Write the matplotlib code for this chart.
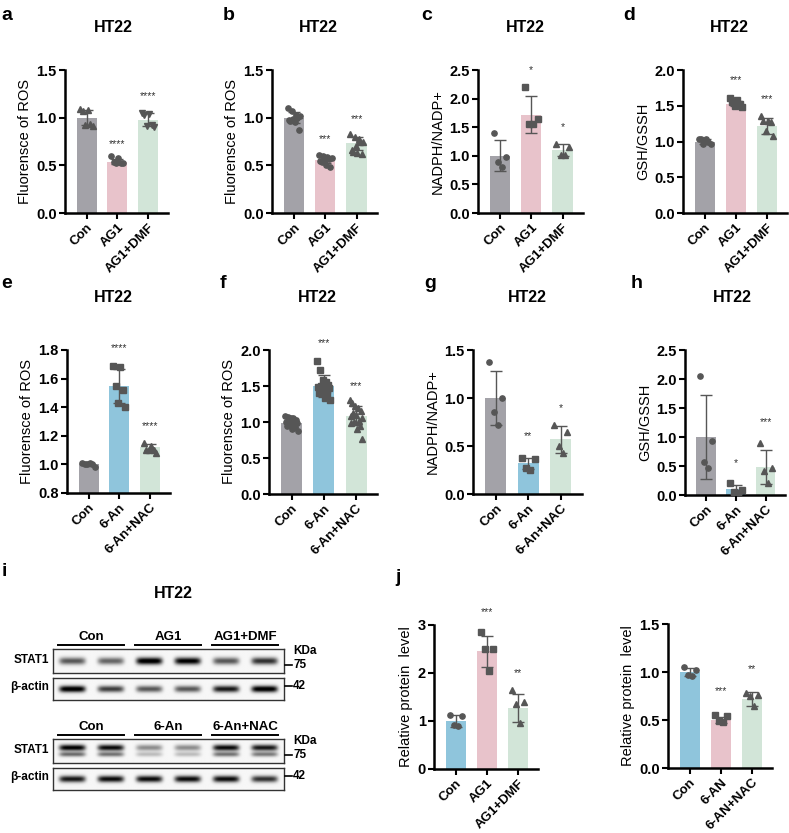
import numpy as np
import matplotlib
matplotlib.use('Agg')
from matplotlib import pyplot as plt
from matplotlib.lines import Line2D

plt.rcParams['font.family'] = ['Liberation Sans', 'DejaVu Sans']

W, H = 789, 833

# colours of the bars
GRAY = '#a3a2a8'
PINK = '#e8c3cb'
GREEN = '#d2e5d8'
BLUE = '#8fc5dc'
DOT = '#565656'

ag_groups = ['Con', 'AG1', 'AG1+DMF']
an_groups = ['Con', '6-An', '6-An+NAC']
an_groups_j = ['Con', '6-AN', '6-AN+NAC']

# ---- a : ROS, AG1
a_means = [1.0, 0.54, 0.98]
a_sd = [0.08, 0.03, 0.07]
a_pts = [[1.09, 1.08, 1.07, 0.93, 0.92, 0.91],
         [0.60, 0.58, 0.53, 0.52, 0.52, 0.52],
         [1.05, 1.04, 1.03, 0.92, 0.91, 0.90]]
a_stars = ['', '****', '****']
a_star_y = [0, 0.72, 1.23]

# ---- b : ROS, AG1
b_means = [1.0, 0.56, 0.73]
b_sd = [0.06, 0.04, 0.07]
b_pts = [[1.10, 1.07, 1.03, 1.02, 1.0, 0.99, 0.98, 0.97, 0.95, 0.87],
         [0.61, 0.60, 0.59, 0.58, 0.57, 0.56, 0.55, 0.53, 0.50, 0.48],
         [0.83, 0.80, 0.78, 0.75, 0.74, 0.70, 0.66, 0.64, 0.63, 0.62]]
b_stars = ['', '***', '***']
b_star_y = [0, 0.78, 0.98]

# ---- c : NADPH/NADP+, AG1
c_means = [1.0, 1.72, 1.1]
c_sd = [0.27, 0.32, 0.11]
c_pts = [[1.40, 0.98, 0.90, 0.80],
         [2.20, 1.65, 1.55, 1.55],
         [1.20, 1.15, 1.02, 1.02]]
c_stars = ['', '*', '*']
c_star_y = [0, 2.5, 1.5]

# ---- d : GSH/GSSH, AG1
d_means = [1.0, 1.53, 1.22]
d_sd = [0.04, 0.04, 0.11]
d_pts = [[1.04, 1.04, 1.03, 1.0, 0.97, 0.96],
         [1.61, 1.58, 1.55, 1.52, 1.50, 1.48],
         [1.36, 1.28, 1.28, 1.27, 1.15, 1.08]]
d_stars = ['', '***', '***']
d_star_y = [0, 1.86, 1.6]

# ---- e : ROS, 6-An
e_means = [1.0, 1.55, 1.12]
e_sd = [0.01, 0.12, 0.02]
e_pts = [[1.01, 1.01, 1.0, 1.0, 1.0, 0.98],
         [1.69, 1.68, 1.55, 1.52, 1.43, 1.40],
         [1.15, 1.13, 1.10, 1.10, 1.10, 1.08]]
e_stars = ['', '****', '****']
e_star_y = [0, 1.81, 1.27]

# ---- f : ROS, 6-An
f_means = [0.99, 1.50, 1.09]
f_sd = [0.06, 0.15, 0.13]
f_pts = [[1.08, 1.07, 1.06, 1.05, 1.03, 1.02, 1.0, 1.0, 0.99, 0.98, 0.97, 0.95, 0.93, 0.90, 0.87],
         [1.85, 1.72, 1.58, 1.55, 1.52, 1.50, 1.50, 1.48, 1.47, 1.45, 1.42, 1.40, 1.38, 1.33, 1.30],
         [1.30, 1.27, 1.22, 1.20, 1.15, 1.12, 1.10, 1.08, 1.05, 1.02, 1.0, 0.98, 0.95, 0.90, 0.77]]
f_stars = ['', '***', '***']
f_star_y = [0, 2.1, 1.5]

# ---- g : NADPH/NADP+, 6-An
g_means = [1.0, 0.32, 0.57]
g_sd = [0.28, 0.06, 0.14]
g_pts = [[1.38, 1.0, 0.85, 0.72],
         [0.38, 0.36, 0.27, 0.25],
         [0.72, 0.65, 0.50, 0.43]]
g_stars = ['', '**', '*']
g_star_y = [0, 0.6, 0.9]

# ---- h : GSH/GSSH, 6-An
h_means = [1.0, 0.1, 0.48]
h_sd = [0.72, 0.08, 0.29]
h_pts = [[2.05, 0.93, 0.57, 0.46],
         [0.20, 0.08, 0.06, 0.04],
         [0.90, 0.46, 0.42, 0.20]]
h_stars = ['', '*', '***']
h_star_y = [0, 0.55, 1.25]

# ---- j : STAT1 quantification
j1_means = [1.0, 2.45, 1.27]
j1_sd = [0.13, 0.33, 0.30]
j1_pts = [[1.13, 1.10, 0.92, 0.90],
          [2.85, 2.50, 2.50, 2.05],
          [1.65, 1.40, 1.35, 0.95]]
j1_stars = ['', '***', '**']
j1_star_y = [0, 3.27, 2.0]

j2_means = [1.0, 0.5, 0.72]
j2_sd = [0.04, 0.03, 0.07]
j2_pts = [[1.05, 1.02, 0.97, 0.96],
          [0.55, 0.54, 0.49, 0.48],
          [0.78, 0.76, 0.75, 0.65]]
j2_stars = ['', '***', '**']
j2_star_y = [0, 0.80, 1.03]

# ---- i : western blot band intensities (6 lanes)
blot1_stat1 = [0.60, 0.55, 1.0, 0.95, 0.60, 0.75]
blot1_actin = [1.0, 0.70, 0.60, 0.60, 0.85, 1.0]
blot2_stat1 = [0.95, 0.90, 0.40, 0.40, 0.90, 0.85]
blot2_actin = [0.85, 0.90, 0.90, 0.90, 0.90, 0.75]


def fx(x):
    return x / W


def fy(y):
    return 1 - y / H


fig = plt.figure(figsize=(W / 100, H / 100), dpi=100)


def bar_panel(box, means, sd, pts, stars, star_y, groups, colors, markers,
              ylim, yticks, ylabel, int_ticks=False):
    left, top, right, bottom = box
    ax = fig.add_axes([fx(left), fy(bottom), (right - left) / W, (bottom - top) / H])
    x = np.arange(len(groups))
    ax.bar(x, means, width=0.65, color=colors, zorder=1)
    ax.errorbar(x, means, yerr=sd, fmt='none', ecolor=DOT, elinewidth=1,
                capsize=4, capthick=1, zorder=3)
    for i, p in enumerate(pts):
        n = len(p)
        offs = np.linspace(-0.2, 0.2, n)
        order = np.argsort(np.arange(n) % 3)
        ax.plot(x[i] + offs[order], p, linestyle='none', marker=markers[i],
                markersize=3.8, color=DOT, zorder=4)
        if stars[i]:
            ax.text(x[i], star_y[i], stars[i], ha='center', va='center',
                    fontsize=7.5, color='#333333')
    ax.set_xlim(-0.7, 2.65)
    ax.set_ylim(*ylim)
    ax.set_yticks(yticks)
    if int_ticks:
        ax.set_yticklabels([str(int(t)) for t in yticks])
    else:
        ax.set_yticklabels(['%.1f' % t for t in yticks])
    ax.set_xticks(x)
    ax.set_xticklabels(groups, rotation=45, ha='right', rotation_mode='anchor')
    ax.set_ylabel(ylabel, fontsize=10.5, labelpad=3)
    for s in ['top', 'right']:
        ax.spines[s].set_visible(False)
    for s in ['left', 'bottom']:
        ax.spines[s].set_linewidth(1.8)
    ax.tick_params(width=1.5, length=4, labelsize=10.5, pad=2)
    for lab in ax.get_yticklabels():
        lab.set_fontweight('bold')
    for lab in ax.get_xticklabels():
        lab.set_fontweight('bold')
        lab.set_fontsize(9.5)
    ax.patch.set_alpha(0)
    return ax


ros = 'Fluorensce of ROS'
nad = 'NADPH/NADP+'
gsh = 'GSH/GSSH'
rel = 'Relative protein  level'
ag_cols = [GRAY, PINK, GREEN]
an_cols = [GRAY, BLUE, GREEN]
j_cols = [BLUE, PINK, GREEN]
mk = ['o', 's', '^']

bar_panel((65, 70, 168, 213), a_means, a_sd, a_pts, a_stars, a_star_y, ag_groups,
          ag_cols, ['^', 'o', 'v'], (0, 1.5), np.arange(0, 1.51, 0.5), ros)
bar_panel((272, 70, 377, 213), b_means, b_sd, b_pts, b_stars, b_star_y, ag_groups,
          ag_cols, ['o', 'o', '^'], (0, 1.5), np.arange(0, 1.51, 0.5), ros)
bar_panel((478, 70, 583, 213), c_means, c_sd, c_pts, c_stars, c_star_y, ag_groups,
          ag_cols, mk, (0, 2.5), np.arange(0, 2.51, 0.5), nad)
bar_panel((683, 70, 787, 213), d_means, d_sd, d_pts, d_stars, d_star_y, ag_groups,
          ag_cols, mk, (0, 2.0), np.arange(0, 2.01, 0.5), gsh)

bar_panel((67, 350, 170, 493), e_means, e_sd, e_pts, e_stars, e_star_y, an_groups,
          an_cols, mk, (0.8, 1.8), np.arange(0.8, 1.81, 0.2), ros)
bar_panel((269, 350, 377, 494), f_means, f_sd, f_pts, f_stars, f_star_y, an_groups,
          an_cols, mk, (0, 2.0), np.arange(0, 2.01, 0.5), ros)
bar_panel((473, 350, 582, 494), g_means, g_sd, g_pts, g_stars, g_star_y, an_groups,
          an_cols, mk, (0, 1.5), np.arange(0, 1.51, 0.5), nad)
bar_panel((685, 350, 785, 495), h_means, h_sd, h_pts, h_stars, h_star_y, an_groups,
          an_cols, mk, (0, 2.5), np.arange(0, 2.51, 0.5), gsh)

bar_panel((434, 625, 538, 769), j1_means, j1_sd, j1_pts, j1_stars, j1_star_y, ag_groups,
          j_cols, mk, (0, 3), [0, 1, 2, 3], rel, int_ticks=True)
bar_panel((668, 624, 772, 768), j2_means, j2_sd, j2_pts, j2_stars, j2_star_y, an_groups_j,
          j_cols, mk, (0, 1.5), np.arange(0, 1.51, 0.5), rel)

# titles and panel letters
for (x, y) in [(113, 27), (318, 27), (525, 27), (729, 27),
               (113, 297), (317, 297), (527, 297), (732, 297), (173, 593)]:
    fig.text(fx(x), fy(y), 'HT22', ha='center', va='center', fontsize=11.5, fontweight='bold')

for letter, (x, y) in zip('abcdefghij', [(7, 15), (229, 15), (427, 15), (629, 15),
                                         (7, 283), (223, 283), (430, 283), (637, 283),
                                         (4, 571), (398, 578)]):
    fig.text(fx(x), fy(y), letter, ha='center', va='center', fontsize=14, fontweight='bold')


# western blots
def blot_strip(box, levels, double=False):
    left, top, right, bottom = box
    ax = fig.add_axes([fx(left), fy(bottom), (right - left) / W, (bottom - top) / H])
    xs = np.linspace(0, len(levels), 600)
    ys = np.linspace(0, 1, 60)
    X, Y = np.meshgrid(xs, ys)
    img = np.full(X.shape, 0.03)
    for i, lv in enumerate(levels):
        hx = np.exp(-((X - (i + 0.5)) / 0.34) ** 6)
        if double:
            vy = np.exp(-((Y - 0.36) / 0.13) ** 2) + 0.55 * np.exp(-((Y - 0.64) / 0.1) ** 2)
        else:
            vy = np.exp(-((Y - 0.5) / 0.15) ** 2)
        img += lv * hx * vy
    ax.imshow(img, cmap='gray_r', vmin=0, vmax=0.95, aspect='auto',
              extent=(0, len(levels), 1, 0), interpolation='bilinear')
    ax.set_xticks([])
    ax.set_yticks([])
    for s in ax.spines.values():
        s.set_linewidth(1.0)
        s.set_color('#333333')
    return ax


def blot_block(y0, stat1, actin, groups, double):
    # y0 = top pixel of the STAT1 strip
    ax1 = blot_strip((53, y0, 284, y0 + 24), stat1, double)
    blot_strip((53, y0 + 29, 284, y0 + 51), actin)
    tr = ax1.get_xaxis_transform()
    for k, g in enumerate(groups):
        ax1.plot([2 * k + 0.12, 2 * k + 1.85], [1.17, 1.17], color='black', lw=1.4,
                 transform=tr, clip_on=False)
        ax1.text(2 * k + 1.0, 1.52, g, transform=tr, ha='center', va='center',
                 fontsize=9.5, fontweight='bold')
    fig.text(fx(49), fy(y0 + 11), 'STAT1', ha='right', va='center', fontsize=8.5, fontweight='bold')
    fig.text(fx(49), fy(y0 + 38), 'β-actin', ha='right', va='center', fontsize=8.5, fontweight='bold')
    fig.text(fx(293), fy(y0 + 2), 'KDa', ha='left', va='center', fontsize=8.5, fontweight='bold')
    for yy, lab in [(y0 + 16, '75'), (y0 + 37, '42')]:
        fig.add_artist(Line2D([fx(285), fx(292)], [fy(yy), fy(yy)], color='black', lw=1.2))
        fig.text(fx(293), fy(yy), lab, ha='left', va='center', fontsize=8.5, fontweight='bold')


blot_block(649, blot1_stat1, blot1_actin, ag_groups, False)
blot_block(739, blot2_stat1, blot2_actin, an_groups, True)

fig.savefig('out.png', dpi=100)
